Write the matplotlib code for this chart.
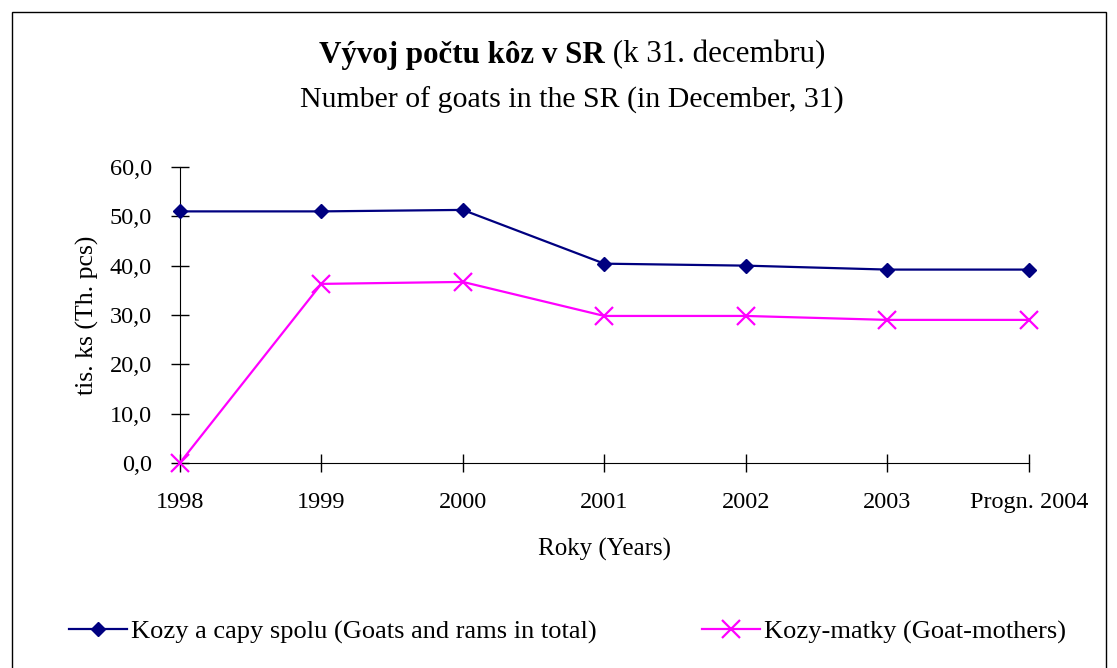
import matplotlib.pyplot as plt
from matplotlib.patches import Rectangle
from matplotlib.ticker import FuncFormatter

plt.rcParams["font.family"] = ["Liberation Serif", "DejaVu Serif"]

years = ["1998", "1999", "2000", "2001", "2002", "2003", "Progn. 2004"]
goats_total = [51.0, 51.0, 51.3, 40.4, 40.0, 39.2, 39.2]
goat_mothers = [0.0, 36.3, 36.7, 29.8, 29.8, 29.0, 29.0]

label_total = "Kozy a capy spolu (Goats and rams in total)"
label_mothers = "Kozy-matky (Goat-mothers)"

fig = plt.figure(figsize=(11.17, 6.68), dpi=100)
ax = fig.add_axes([0.161, 0.307, 0.760, 0.443])

x = list(range(len(years)))
ax.plot(x, goats_total, color="#000080", linewidth=1.6, marker="D",
        markersize=7.5, label=label_total, clip_on=False, zorder=3)
ax.plot(x, goat_mothers, color="#ff00ff", linewidth=1.6, marker="x",
        markersize=13, markeredgewidth=1.6, label=label_mothers,
        clip_on=False, zorder=3)

ax.set_xlim(0, len(years) - 1)
ax.set_ylim(0, 60)
ax.set_yticks(range(0, 61, 10))
ax.yaxis.set_major_formatter(FuncFormatter(lambda v, p: f"{v:.1f}".replace(".", ",")))
ax.set_xticks(x)
ax.set_xticklabels(years)

for s in ["top", "right"]:
    ax.spines[s].set_visible(False)
ax.tick_params(direction="inout", length=13, width=1, labelsize=17.5)
ax.tick_params(axis="x", pad=14.5)
ax.tick_params(axis="y", pad=13.5)

ax.set_xlabel("Roky (Years)", fontsize=18, labelpad=18)
ax.set_ylabel("tis. ks (Th. pcs)", fontsize=18.5, labelpad=8)

# title: bold part + regular part on one line
t1 = fig.text(0, 0, "Vývoj počtu kôz v SR", fontsize=22.3, fontweight="bold",
              va="center")
t2 = fig.text(0, 0, " (k 31. decembru)", fontsize=22.3, va="center")
fig.canvas.draw()
r = fig.canvas.get_renderer()
w1 = t1.get_window_extent(r).width / fig.bbox.width
w2 = t2.get_window_extent(r).width / fig.bbox.width
x0 = 0.512 - (w1 + w2) / 2
yt = 1 - 55 / 668
t1.set_position((x0, yt))
t2.set_position((x0 + w1, yt))
fig.text(0.512, 1 - 100 / 668, "Number of goats in the SR (in December, 31)",
         fontsize=21.5, ha="center", va="center")

fig.legend(loc="center", bbox_to_anchor=(0.508, 1 - 632 / 668), ncol=2,
           frameon=False, fontsize=19, handlelength=2.2, handletextpad=0.15,
           columnspacing=4.0)

fig.patches.append(Rectangle((12 / 1117, -0.01), 1094 / 1117, 1 - 12 / 668 + 0.01,
                             transform=fig.transFigure, fill=False,
                             edgecolor="black", linewidth=1))

fig.savefig("out.png", dpi=100)
